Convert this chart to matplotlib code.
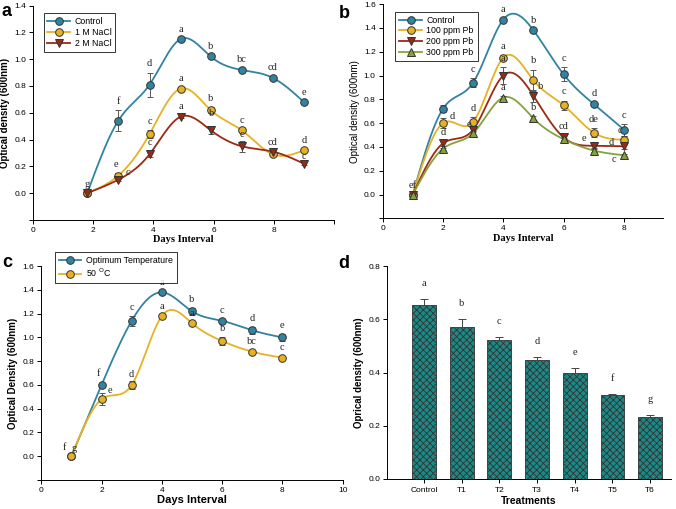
import numpy as np
import matplotlib
matplotlib.use('Agg')
from matplotlib import pyplot as plt
from matplotlib.lines import Line2D

plt.rcParams['font.family'] = ['Liberation Sans', 'DejaVu Sans']
plt.rcParams['hatch.linewidth'] = 0.6

# ---- panel a : NaCl ----
a_days = [1.8, 2.83, 3.87, 4.9, 5.9, 6.93, 7.97, 9.0]
a_control = [0.0, 0.54, 0.81, 1.15, 1.02, 0.92, 0.86, 0.68]
a_control_err = [0.0, 0.08, 0.09, 0.01, 0.01, 0.01, 0.01, 0.01]
a_control_let = ['g', 'f', 'd', 'a', 'b', 'bc', 'cd', 'e']
a_nacl1 = [0.0, 0.13, 0.44, 0.78, 0.62, 0.47, 0.29, 0.32]
a_nacl1_err = [0.0, 0.02, 0.03, 0.01, 0.02, 0.01, 0.01, 0.01]
a_nacl1_let = ['', 'e', 'c', 'a', 'b', 'c', 'cd', 'd']
a_nacl2 = [0.0, 0.10, 0.29, 0.57, 0.47, 0.35, 0.31, 0.22]
a_nacl2_err = [0.0, 0.01, 0.02, 0.01, 0.03, 0.04, 0.01, 0.01]
a_nacl2_let = ['', 'c', 'c', 'a', 'b', 'c', '', 'c']

# ---- panel b : Pb ----
b_days = [1, 2, 3, 4, 5, 6, 7, 8]
b_control = [0.0, 0.72, 0.94, 1.47, 1.38, 1.01, 0.76, 0.545]
b_control_err = [0.0, 0.03, 0.04, 0.01, 0.01, 0.06, 0.02, 0.05]
b_control_let = ['ef', '', 'c', 'a', 'b', 'c', 'd', 'c']
b_pb100 = [0.0, 0.60, 0.61, 1.15, 0.96, 0.75, 0.52, 0.46]
b_pb100_err = [0.0, 0.04, 0.04, 0.02, 0.09, 0.04, 0.04, 0.03]
b_pb100_let = ['', 'd', 'd', 'a', 'b', 'c', 'de', 'c']
b_pb200 = [0.0, 0.43, 0.545, 1.0, 0.83, 0.48, 0.41, 0.405]
b_pb200_err = [0.0, 0.02, 0.02, 0.07, 0.05, 0.02, 0.02, 0.02]
b_pb200_let = ['', 'd', 'e', 'a', 'b', 'cd', 'e', 'd']
b_pb300 = [0.0, 0.385, 0.515, 0.815, 0.64, 0.465, 0.37, 0.33]
b_pb300_err = [0.0, 0.01, 0.02, 0.01, 0.02, 0.01, 0.01, 0.01]
b_pb300_let = ['', '', '', 'a', 'b', '', '', 'c']

# ---- panel c : temperature ----
c_days = [1, 2, 3, 4, 5, 6, 7, 8]
c_opt = [0.0, 0.60, 1.14, 1.38, 1.22, 1.14, 1.06, 1.0]
c_opt_err = [0.0, 0.02, 0.04, 0.01, 0.03, 0.01, 0.03, 0.03]
c_opt_let = ['f', 'f', 'c', 'a', 'b', 'c', 'd', 'e']
c_t50 = [0.0, 0.48, 0.60, 1.18, 1.12, 0.97, 0.88, 0.83]
c_t50_err = [0.0, 0.05, 0.03, 0.01, 0.01, 0.03, 0.01, 0.01]
c_t50_let = ['g', 'e', 'd', 'a', 'a', 'b', 'bc', 'c']

# ---- panel d : treatments ----
d_treat = ['Control', 'T1', 'T2', 'T3', 'T4', 'T5', 'T6']
d_od = [0.656, 0.573, 0.523, 0.449, 0.398, 0.315, 0.232]
d_err = [0.019, 0.028, 0.011, 0.008, 0.018, 0.004, 0.008]
d_let = ['a', 'b', 'c', 'd', 'e', 'f', 'g']

TEAL = '#3283a0'
GOLD = '#e6b224'
RED = '#9a2a12'
GREEN = '#86a23a'
BAR = '#1b8a86'


def smooth(x, y, n=300):
    # natural cubic spline through the points (what the original software draws)
    x = np.asarray(x, float)
    y = np.asarray(y, float)
    m = len(x)
    h = np.diff(x)
    A = np.zeros((m, m))
    r = np.zeros(m)
    A[0, 0] = A[-1, -1] = 1
    for i in range(1, m - 1):
        A[i, i - 1] = h[i - 1]
        A[i, i] = 2 * (h[i - 1] + h[i])
        A[i, i + 1] = h[i]
        r[i] = 3 * ((y[i + 1] - y[i]) / h[i] - (y[i] - y[i - 1]) / h[i - 1])
    c = np.linalg.solve(A, r)
    b = (y[1:] - y[:-1]) / h - h * (2 * c[:-1] + c[1:]) / 3
    d = (c[1:] - c[:-1]) / (3 * h)
    xs = np.linspace(x[0], x[-1], n)
    k = np.clip(np.searchsorted(x, xs) - 1, 0, m - 2)
    t = xs - x[k]
    return xs, y[k] + b[k] * t + c[k] * t ** 2 + d[k] * t ** 3


def series(ax, x, y, err, color, marker, label, letters, shift=None):
    shift = shift or {}
    xs, ys = smooth(x, y)
    ax.plot(xs, ys, color=color, lw=1.3, zorder=2)
    ax.errorbar(x, y, yerr=err, fmt='none', ecolor='#555555', elinewidth=0.7,
                capsize=2, capthick=0.7, zorder=3)
    ax.plot(x, y, ls='none', marker=marker, ms=5.5, mfc=color, mec='#333333',
            mew=0.7, zorder=4)
    for i, (xi, yi, ei, lt) in enumerate(zip(x, y, err, letters)):
        if lt:
            ax.annotate(lt, (xi, yi + ei), xytext=shift.get(i, (0, 3)),
                        textcoords='offset points', ha='center', va='bottom',
                        fontsize=7.5, family='Liberation Serif', color='#222222',
                        zorder=5)
    return Line2D([], [], color=color, lw=1.3, marker=marker, ms=5.5, mfc=color,
                  mec='#333333', mew=0.7, label=label)


def style(ax):
    for s in ['top', 'right']:
        ax.spines[s].set_visible(False)
    for s in ['left', 'bottom']:
        ax.spines[s].set_linewidth(0.7)
    ax.tick_params(labelsize=6, width=0.7, length=3, direction='out', pad=2)


def legend(ax, handles, anchor, size=6.3):
    lg = ax.legend(handles=handles, loc='upper left', bbox_to_anchor=anchor,
                   fontsize=size, frameon=True, fancybox=False, edgecolor='black',
                   handlelength=2.6, borderpad=0.45, labelspacing=0.2,
                   handletextpad=0.5)
    lg.get_frame().set_linewidth(0.7)


fig = plt.figure(figsize=(6.76, 5.09), dpi=100)

# panel a
ax = fig.add_axes([0.049, 0.568, 0.445, 0.421])
h1 = series(ax, a_days, a_control, a_control_err, TEAL, 'o', 'Control', a_control_let)
h2 = series(ax, a_days, a_nacl1, a_nacl1_err, GOLD, 'o', '1 M NaCl', a_nacl1_let,
            {1: (-2, 3), 6: (0, 4)})
h3 = series(ax, a_days, a_nacl2, a_nacl2_err, RED, 'v', '2 M NaCl', a_nacl2_let,
            {1: (7, 1), 4: (1, 6), 5: (0, 1), 7: (0, 1)})
ax.set_xlim(0, 10)
ax.set_ylim(-0.2, 1.4)
ax.set_xticks([0, 2, 4, 6, 8, 10])
ax.set_xticklabels(['0', '2', '4', '6', '8', ''])
ax.set_yticks(np.arange(-0.2, 1.41, 0.2))
ax.set_yticklabels([''] + ['%.1f' % v for v in np.arange(0, 1.41, 0.2)])
ax.set_xlabel('Days Interval', family='Liberation Serif', fontweight='bold', fontsize=7.5, labelpad=1)
ax.set_ylabel('Optical density (600nm)', fontweight='bold', fontsize=7, labelpad=3)
style(ax)
legend(ax, [h1, h2, h3], (0.02, 0.985))
fig.text(0.002, 0.978, 'a', fontsize=13, fontweight='bold', va='center')

# panel b
ax = fig.add_axes([0.566, 0.571, 0.415, 0.421])
h1 = series(ax, b_days, b_control, b_control_err, TEAL, 'o', 'Control', b_control_let)
h2 = series(ax, b_days, b_pb100, b_pb100_err, GOLD, 'o', '100 ppm Pb', b_pb100_let,
            {1: (7, -2), 7: (-3, 1)})
h3 = series(ax, b_days, b_pb200, b_pb200_err, RED, 'v', '200 ppm Pb', b_pb200_let,
            {2: (-3, -1), 4: (5, -1), 6: (-7, 0), 7: (-9, -2)})
h4 = series(ax, b_days, b_pb300, b_pb300_err, GREEN, '^', '300 ppm Pb', b_pb300_let,
            {7: (-7, -7)})
ax.set_xlim(0, 9.3)
ax.set_ylim(-0.2, 1.6)
ax.set_xticks([0, 2, 4, 6, 8])
ax.set_yticks(np.arange(-0.2, 1.61, 0.2))
ax.set_yticklabels([''] + ['%.1f' % v for v in np.arange(0, 1.61, 0.2)])
ax.set_xlabel('Days Interval', family='Liberation Serif', fontweight='bold', fontsize=7.5, labelpad=1)
ax.set_ylabel('Optical density (600nm)', fontsize=7, labelpad=3)
style(ax)
legend(ax, [h1, h2, h3, h4], (0.03, 0.985))
fig.text(0.501, 0.974, 'b', fontsize=13, fontweight='bold', va='center')

# panel c
ax = fig.add_axes([0.061, 0.057, 0.446, 0.42])
h1 = series(ax, c_days, c_opt, c_opt_err, TEAL, 'o', 'Optimum Temperature', c_opt_let,
            {0: (-5, 3), 1: (-2, 3)})
h2 = series(ax, c_days, c_t50, c_t50_err, GOLD, 'o', '50 $^{\\rm O}$C', c_t50_let,
            {0: (2, 2), 1: (6, -1), 2: (0, 2)})
ax.set_xlim(0, 10)
ax.set_ylim(-0.2, 1.6)
ax.set_xticks([0, 2, 4, 6, 8, 10])
ax.set_yticks(np.arange(-0.2, 1.61, 0.2))
ax.set_yticklabels([''] + ['%.1f' % v for v in np.arange(0, 1.61, 0.2)])
ax.set_xlabel('Days Interval', fontweight='bold', fontsize=8, labelpad=1)
ax.set_ylabel('Optical Density (600nm)', fontweight='bold', fontsize=7, labelpad=3)
style(ax)
legend(ax, [h1, h2], (0.03, 1.085))
fig.text(0.004, 0.485, 'c', fontsize=13, fontweight='bold', va='center')

# panel d
ax = fig.add_axes([0.5725, 0.059, 0.42, 0.418])
pos = np.arange(len(d_treat))
ax.bar(pos, d_od, width=0.63, color=BAR, edgecolor='#333333', linewidth=0.6,
       hatch='xxxxx', zorder=2)
ax.errorbar(pos, d_od, yerr=[np.zeros(len(d_err)), d_err], fmt='none',
            ecolor='#444444', elinewidth=0.7, capsize=3, capthick=0.7, zorder=3)
for p, v, e, lt in zip(pos, d_od, d_err, d_let):
    ax.annotate(lt, (p, v + e), xytext=(0, 8), textcoords='offset points',
                ha='center', va='bottom', fontsize=7.5, family='Liberation Serif',
                color='#222222')
ax.set_xlim(-0.98, 6.55)
ax.set_ylim(0, 0.8)
ax.set_xticks(pos)
ax.set_xticklabels(d_treat)
ax.set_yticks([0.0, 0.2, 0.4, 0.6, 0.8])
ax.set_xlabel('Treatments', fontweight='bold', fontsize=7.5, labelpad=1)
ax.set_ylabel('Oprical density (600nm)', fontweight='bold', fontsize=7, labelpad=3)
style(ax)
ax.tick_params(axis='x', pad=3)
fig.text(0.5, 0.482, 'd', fontsize=13, fontweight='bold', va='center')

fig.savefig('out.png', dpi=100)
